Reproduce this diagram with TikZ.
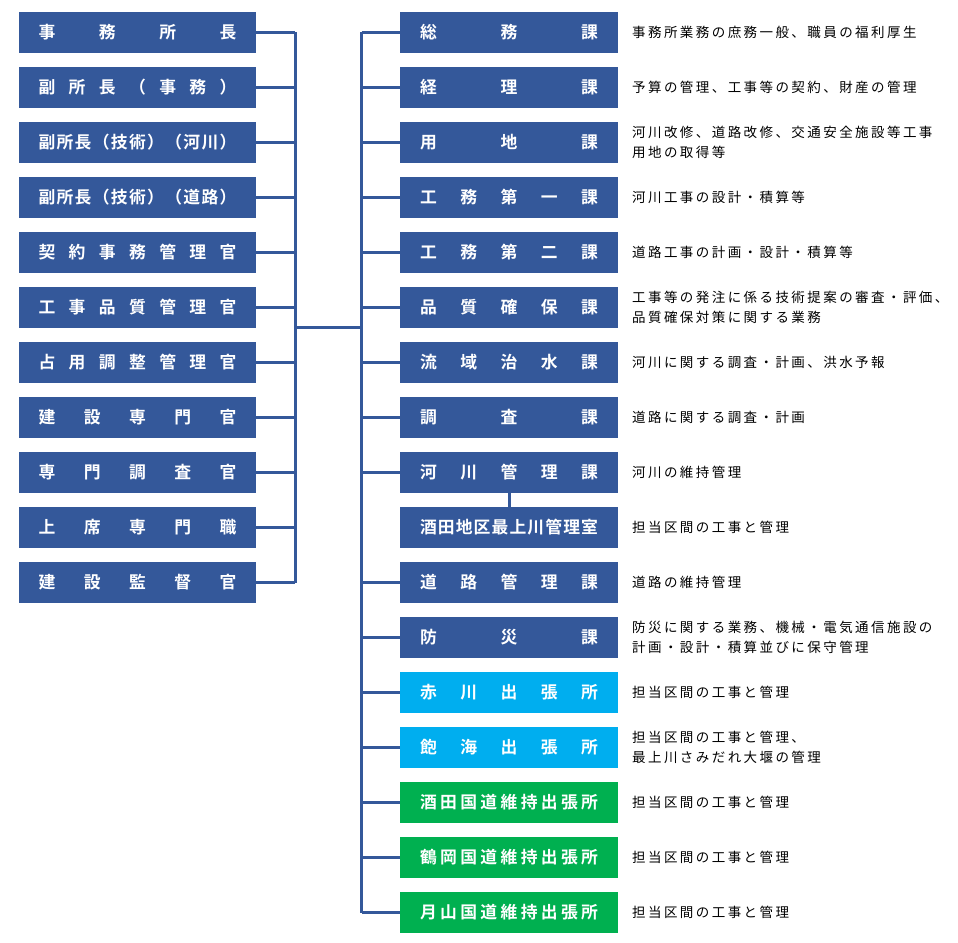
\documentclass[tikz,border=0pt]{standalone}
\usepackage{fontspec}
\newfontfamily\jpb{Noto Sans CJK JP Bold}
\newfontfamily\jpd{Noto Sans CJK JP}[LetterSpace=18]
\usetikzlibrary{backgrounds}
\definecolor{navy}{HTML}{34589A}
\definecolor{sky}{HTML}{00AEEF}
\definecolor{grn}{HTML}{00B050}
\makeatletter
\def\spreadtext#1{\@spreadA#1\@nil}
\def\@spreadA#1#2\@nil{#1\ifx\relax#2\relax\else\hfill\@spreadA#2\@nil\fi}
\makeatother
\newcommand{\lbox}[1]{\makebox[198pt]{\expandafter\spreadtext\expandafter{#1}}}
\newcommand{\rbox}[1]{\makebox[178pt]{\expandafter\spreadtext\expandafter{#1}}}
\tikzset{
  leftbox/.style={fill=navy, minimum width=237pt, minimum height=41pt, inner sep=0pt, text=white, font=\jpb\fontsize{16.8}{18}\selectfont},
  rightbox/.style={fill=#1, minimum width=218pt, minimum height=41pt, inner sep=0pt, text=white, font=\jpb\fontsize{16.8}{18}\selectfont},
  desc/.style={anchor=west, inner sep=0pt, align=left, text=black, font=\jpd\fontsize{13.5}{20}\selectfont},
  wire/.style={draw=navy, line width=3pt, line cap=square}
}
\begin{document}
\begin{tikzpicture}[x=1pt,y=-1pt]
\useasboundingbox (0,0) rectangle (958,942);
% left column
\foreach \t [count=\i from 0] in {事務所長,副所長（事務）,副所長（技術）（河川）,副所長（技術）（道路）,契約事務管理官,工事品質管理官,占用調整管理官,建設専門官,専門調査官,上席専門職,建設監督官}{
  \node[leftbox] (L\i) at (137.5, 32.5+55*\i) {\lbox{\t}};
}
% right column
\foreach \t/\c [count=\i from 0] in {総務課/navy,経理課/navy,用地課/navy,工務第一課/navy,工務第二課/navy,品質確保課/navy,流域治水課/navy,調査課/navy,河川管理課/navy,酒田地区最上川管理室/navy,道路管理課/navy,防災課/navy,赤川出張所/sky,飽海出張所/sky,酒田国道維持出張所/grn,鶴岡国道維持出張所/grn,月山国道維持出張所/grn}{
  \node[rightbox=\c] (R\i) at (509, 32.5+55*\i) {\rbox{\t}};
}
% descriptions
\node[desc] (D0) at (632, 32.5) {事務所業務の庶務一般、職員の福利厚生};
\node[desc] (D1) at (632, 87.5) {予算の管理、工事等の契約、財産の管理};
\node[desc] (D2) at (632, 142.5) {河川改修、道路改修、交通安全施設等工事\\用地の取得等};
\node[desc] (D3) at (632, 197.5) {河川工事の設計・積算等};
\node[desc] (D4) at (632, 252.5) {道路工事の計画・設計・積算等};
\node[desc] (D5) at (632, 307.5) {工事等の発注に係る技術提案の審査・評価、\\品質確保対策に関する業務};
\node[desc] (D6) at (632, 362.5) {河川に関する調査・計画、洪水予報};
\node[desc] (D7) at (632, 417.5) {道路に関する調査・計画};
\node[desc] (D8) at (632, 472.5) {河川の維持管理};
\node[desc] (D9) at (632, 527.5) {担当区間の工事と管理};
\node[desc] (D10) at (632, 582.5) {道路の維持管理};
\node[desc] (D11) at (632, 637.5) {防災に関する業務、機械・電気通信施設の\\計画・設計・積算並びに保守管理};
\node[desc] (D12) at (632, 692.5) {担当区間の工事と管理};
\node[desc] (D13) at (632, 747.5) {担当区間の工事と管理、\\最上川さみだれ大堰の管理};
\node[desc] (D14) at (632, 802.5) {担当区間の工事と管理};
\node[desc] (D15) at (632, 857.5) {担当区間の工事と管理};
\node[desc] (D16) at (632, 912.5) {担当区間の工事と管理};
% connectors
\coordinate (lb) at (295, 0);
\coordinate (rb) at (361.5, 0);
\coordinate (mid) at (0, 327);
\begin{scope}[on background layer]
  \fill[white] (0,0) rectangle (958,942);
  \foreach \i in {0,...,10}{ \draw[wire] (L\i.east) -- (L\i.east -| lb); }
  \draw[wire] (L0.east -| lb) -- (L10.east -| lb);
  \draw[wire] (lb |- mid) -- (rb |- mid);
  \draw[wire] (R0.west -| rb) -- (R16.west -| rb);
  \foreach \i in {0,1,2,3,4,5,6,7,8,10,11,12,13,14,15,16}{ \draw[wire] (R\i.west -| rb) -- (R\i.west); }
  \draw[wire] (R8.south) -- (R9.north);
\end{scope}
\end{tikzpicture}
\end{document}
